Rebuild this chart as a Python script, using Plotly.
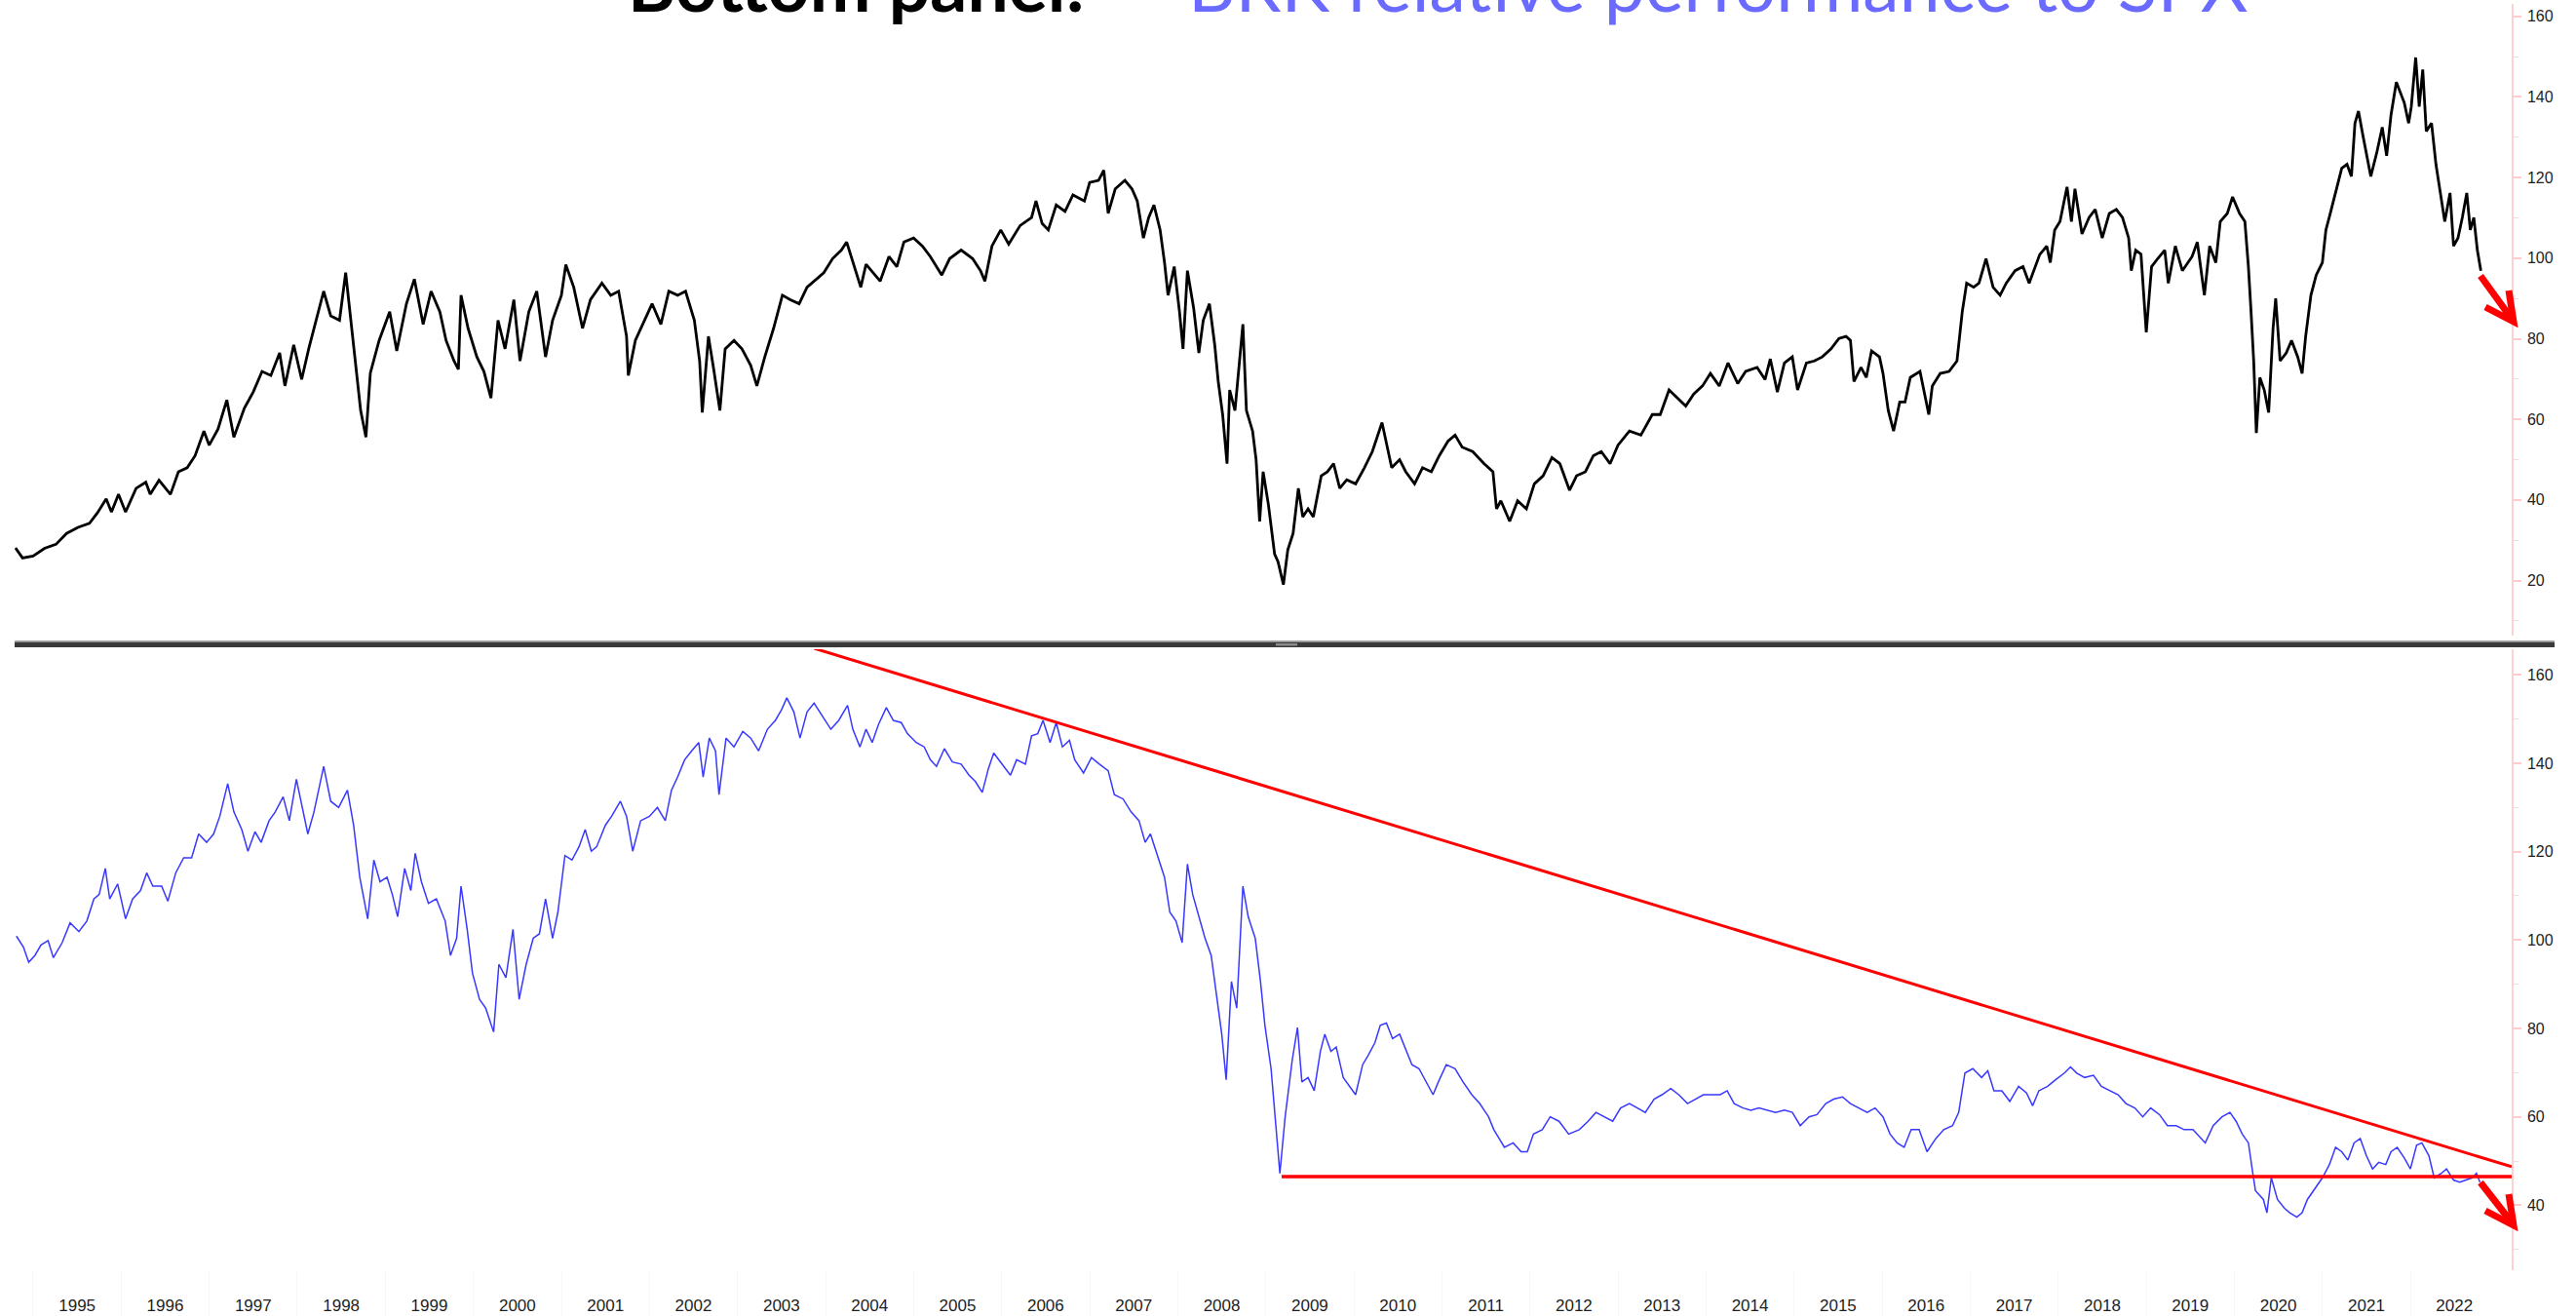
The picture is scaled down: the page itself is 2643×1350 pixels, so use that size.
import plotly.graph_objects as go

# ---------------- data ----------------
top_t = [1994.80,1994.88,1995.00,1995.13,1995.26,1995.38,1995.51,1995.64,1995.73,1995.83,1995.89,1995.97,
 1996.05,1996.17,1996.28,1996.33,1996.43,1996.56,1996.65,1996.75,1996.84,1996.94,1997.00,1997.10,1997.20,
 1997.28,1997.40,1997.50,1997.60,1997.70,1997.80,1997.86,1997.96,1998.05,1998.13,1998.23,1998.30,1998.38,
 1998.48,1998.55,1998.60,1998.67,1998.72,1998.78,1998.83,1998.93,1999.05,1999.13,1999.24,1999.33,1999.43,
 1999.52,1999.62,1999.69,1999.78,1999.83,1999.86,1999.94,2000.04,2000.12,2000.20,2000.28,2000.36,2000.46,
 2000.53,2000.63,2000.72,2000.82,2000.90,2001.00,2001.05,2001.14,2001.24,2001.33,2001.46,2001.56,2001.65,
 2001.74,2001.76,2001.84,2001.94,2002.03,2002.13,2002.22,2002.32,2002.41,2002.51,2002.57,2002.60,2002.67,
 2002.73,2002.80,2002.86,2002.96,2003.05,2003.15,2003.22,2003.31,2003.41,2003.51,2003.60,2003.70,2003.79,
 2003.89,2003.98,2004.08,2004.18,2004.24,2004.30,2004.40,2004.46,2004.56,2004.62,2004.72,2004.81,2004.89,
 2005.00,2005.10,2005.19,2005.32,2005.41,2005.54,2005.67,2005.76,2005.81,2005.89,2005.99,2006.08,2006.21,
 2006.34,2006.39,2006.46,2006.53,2006.62,2006.72,2006.81,2006.94,2007.00,2007.10,2007.16,2007.21,2007.29,
 2007.40,2007.48,2007.54,2007.61,2007.67,2007.73,2007.80,2007.85,2007.89,2007.96,2008.02,2008.06,2008.11,
 2008.18,2008.24,2008.29,2008.36,2008.42,2008.46,2008.51,2008.56,2008.59,2008.65,2008.74,2008.78,2008.85,
 2008.89,2008.93,2008.97,2009.03,2009.10,2009.14,2009.20,2009.25,2009.31,2009.37,2009.42,2009.48,2009.54,
 2009.63,2009.70,2009.77,2009.84,2009.92,2010.02,2010.12,2010.21,2010.32,2010.37,2010.43,2010.52,2010.59,
 2010.69,2010.78,2010.88,2010.97,2011.07,2011.15,2011.23,2011.35,2011.48,2011.58,2011.62,2011.67,2011.77,
 2011.86,2011.96,2012.05,2012.15,2012.25,2012.34,2012.45,2012.53,2012.63,2012.72,2012.81,2012.91,2013.00,
 2013.13,2013.26,2013.39,2013.48,2013.58,2013.67,2013.77,2013.86,2013.96,2014.05,2014.15,2014.25,2014.36,
 2014.45,2014.58,2014.67,2014.73,2014.81,2014.89,2014.98,2015.04,2015.14,2015.23,2015.32,2015.42,2015.51,
 2015.59,2015.64,2015.68,2015.76,2015.82,2015.88,2015.97,2016.01,2016.07,2016.13,2016.20,2016.26,2016.32,
 2016.43,2016.48,2016.53,2016.57,2016.66,2016.76,2016.85,2016.91,2016.96,2017.04,2017.10,2017.18,2017.26,
 2017.34,2017.41,2017.51,2017.60,2017.67,2017.72,2017.79,2017.87,2017.91,2017.96,2018.02,2018.10,2018.15,
 2018.19,2018.27,2018.35,2018.42,2018.50,2018.58,2018.66,2018.73,2018.80,2018.83,2018.88,2018.94,2019.00,
 2019.06,2019.13,2019.21,2019.25,2019.33,2019.41,2019.47,2019.52,2019.58,2019.63,2019.66,2019.72,2019.79,
 2019.84,2019.92,2019.98,2020.06,2020.12,2020.16,2020.19,2020.22,2020.25,2020.29,2020.34,2020.39,2020.44,
 2020.47,2020.52,2020.59,2020.65,2020.72,2020.77,2020.81,2020.87,2020.93,2021.00,2021.04,2021.09,2021.15,
 2021.22,2021.28,2021.33,2021.37,2021.41,2021.46,2021.51,2021.55,2021.62,2021.68,2021.73,2021.78,2021.84,
 2021.89,2021.93,2021.98,2022.01,2022.06,2022.10,2022.14,2022.18,2022.24,2022.29,2022.34,2022.39,2022.45,
 2022.49,2022.54,2022.59,2022.64,2022.68,2022.72,2022.76,2022.80]
top_v = [28.1,25.6,26.1,28.0,29.0,31.7,33.2,34.2,36.8,40.3,37.0,41.4,
 37.0,42.9,44.4,41.4,44.9,41.4,47.0,48.0,51.0,57.1,53.6,57.6,64.8,
 55.6,62.8,66.8,71.9,70.9,76.5,68.3,78.5,69.9,77.5,85.7,91.8,85.7,
 84.6,96.4,86.7,72.4,62.2,55.6,71.5,79.6,86.7,77.0,88.7,94.8,83.6,
 91.8,86.7,79.6,74.5,72.4,90.8,82.6,75.5,71.9,65.3,84.6,77.5,89.7,
 74.5,86.7,91.8,75.5,84.6,90.8,98.4,92.8,82.6,89.7,93.8,90.8,91.8,
 80.6,70.9,79.6,84.6,88.7,83.6,91.8,90.8,91.8,84.6,74.5,61.7,80.6,
 72.4,62.2,77.5,79.6,77.5,73.4,68.3,75.5,82.6,90.8,89.7,88.7,92.8,
 94.8,96.4,99.9,102.0,104.0,99.9,92.8,98.5,95.8,94.3,100.4,97.9,104.0,
 105.0,103.0,100.4,95.8,99.9,102.0,99.9,96.9,94.3,103.0,107.0,103.5,108.1,
 110.1,114.2,108.6,107.0,113.2,111.6,115.7,114.2,118.8,119.3,121.8,111.1,117.2,
 119.3,117.2,114.2,105.0,110.1,113.2,107.0,98.9,90.8,97.9,86.7,77.5,96.9,
 87.7,76.5,84.6,88.7,78.5,69.4,61.2,49.0,67.3,62.2,83.6,62.2,57.1,
 50.0,34.7,47.0,38.8,26.6,24.6,19.0,27.6,31.7,42.9,35.8,37.8,35.8,
 46.0,47.0,49.0,42.9,45.0,44.0,48.0,52.0,59.2,54.1,48.0,50.0,47.0,
 44.0,48.0,47.0,51.0,54.6,56.1,53.1,52.0,49.0,47.0,37.8,39.8,34.7,
 39.8,37.8,44.0,46.0,50.5,49.0,42.4,46.0,47.0,51.0,52.0,49.0,53.6,
 57.1,56.1,61.2,61.2,67.3,65.3,63.3,66.3,68.3,71.4,68.3,74.0,68.9,
 71.9,72.9,69.9,75.0,66.8,74.0,75.5,67.3,74.0,74.5,75.5,77.5,80.1,
 80.6,79.6,69.4,72.9,70.4,77.0,75.5,71.4,62.2,57.1,64.3,64.3,70.4,
 71.9,66.3,61.2,68.3,71.4,71.9,74.5,86.7,93.8,92.8,93.8,99.9,92.8,
 90.8,93.8,96.9,97.9,93.8,96.9,100.9,103.0,98.9,107.0,109.1,117.7,109.1,
 117.2,106.0,110.1,112.1,105.0,111.1,112.1,110.1,105.0,96.9,102.0,101.0,81.6,
 97.9,99.9,102.0,93.8,103.0,96.9,98.9,100.4,104.0,94.8,90.8,103.0,98.9,
 109.1,111.1,115.2,111.1,109.1,97.9,86.7,74.5,56.6,70.4,67.3,61.7,82.6,
 90.0,74.5,76.5,79.6,75.5,71.4,80.6,90.8,95.8,98.9,107.0,111.1,116.2,
 122.3,123.3,120.3,133.5,136.5,130.5,124.4,120.3,126.4,132.5,125.4,135.6,143.7,
 140.7,138.6,133.5,137.6,149.8,137.6,146.8,131.5,133.5,123.3,116.2,109.1,116.2,
 103.0,105.0,110.1,116.2,107.0,110.1,102.0,96.9]

rel_t = [1994.81,1994.89,1994.95,1995.02,1995.09,1995.17,1995.23,1995.33,1995.42,1995.52,1995.61,1995.69,
 1995.75,1995.82,1995.87,1995.96,1996.05,1996.13,1996.22,1996.29,1996.36,1996.46,1996.53,1996.62,1996.71,
 1996.80,1996.88,1996.97,1997.05,1997.12,1997.21,1997.28,1997.37,1997.44,1997.52,1997.59,1997.68,1997.75,
 1997.84,1997.91,1997.99,1998.06,1998.12,1998.19,1998.30,1998.38,1998.47,1998.57,1998.64,1998.71,1998.76,
 1998.80,1998.87,1998.94,1999.02,1999.08,1999.14,1999.22,1999.29,1999.34,1999.41,1999.49,1999.58,1999.68,
 1999.74,1999.81,1999.86,1999.93,1999.99,2000.07,2000.14,2000.23,2000.29,2000.37,2000.45,2000.52,2000.60,
 2000.68,2000.75,2000.82,2000.90,2000.96,2001.04,2001.12,2001.20,2001.27,2001.34,2001.40,2001.50,2001.57,
 2001.67,2001.74,2001.81,2001.90,2002.00,2002.09,2002.18,2002.25,2002.32,2002.40,2002.48,2002.56,2002.61,
 2002.68,2002.75,2002.79,2002.87,2002.96,2003.06,2003.15,2003.24,2003.34,2003.43,2003.50,2003.56,2003.64,
 2003.71,2003.79,2003.87,2003.97,2004.06,2004.15,2004.25,2004.31,2004.39,2004.46,2004.53,2004.60,2004.69,
 2004.77,2004.86,2004.93,2005.03,2005.12,2005.19,2005.26,2005.35,2005.44,2005.54,2005.63,2005.70,2005.78,
 2005.85,2005.91,2006.00,2006.10,2006.17,2006.27,2006.34,2006.41,2006.47,2006.55,2006.62,2006.69,2006.77,
 2006.83,2006.93,2007.02,2007.11,2007.21,2007.28,2007.38,2007.47,2007.56,2007.63,2007.69,2007.77,2007.85,
 2007.91,2007.98,2008.05,2008.11,2008.17,2008.24,2008.31,2008.38,2008.45,2008.50,2008.55,2008.61,2008.67,
 2008.74,2008.80,2008.88,2008.94,2008.99,2009.06,2009.10,2009.16,2009.22,2009.30,2009.36,2009.41,2009.48,
 2009.55,2009.62,2009.67,2009.74,2009.80,2009.88,2009.95,2010.02,2010.10,2010.16,2010.24,2010.30,2010.37,
 2010.44,2010.52,2010.58,2010.66,2010.74,2010.82,2010.90,2010.96,2011.05,2011.15,2011.24,2011.34,2011.43,
 2011.53,2011.59,2011.65,2011.71,2011.81,2011.90,2011.97,2012.04,2012.14,2012.23,2012.33,2012.44,2012.56,
 2012.66,2012.75,2012.84,2012.94,2013.03,2013.13,2013.22,2013.31,2013.41,2013.50,2013.60,2013.69,2013.79,
 2013.88,2013.97,2014.07,2014.16,2014.24,2014.32,2014.42,2014.51,2014.60,2014.70,2014.79,2014.89,2014.98,
 2015.07,2015.17,2015.26,2015.36,2015.45,2015.55,2015.64,2015.73,2015.83,2015.92,2016.01,2016.09,2016.17,
 2016.25,2016.33,2016.42,2016.51,2016.61,2016.70,2016.80,2016.87,2016.94,2017.03,2017.13,2017.20,2017.27,
 2017.36,2017.45,2017.55,2017.64,2017.71,2017.78,2017.88,2017.97,2018.07,2018.14,2018.21,2018.30,2018.40,
 2018.49,2018.59,2018.68,2018.77,2018.87,2018.96,2019.05,2019.15,2019.24,2019.34,2019.43,2019.53,2019.62,
 2019.67,2019.76,2019.86,2019.95,2020.02,2020.09,2020.16,2020.21,2020.24,2020.33,2020.37,2020.42,2020.49,
 2020.57,2020.63,2020.71,2020.77,2020.83,2020.94,2021.00,2021.08,2021.15,2021.22,2021.29,2021.36,2021.43,
 2021.50,2021.57,2021.64,2021.72,2021.78,2021.85,2021.93,2022.00,2022.07,2022.13,2022.21,2022.27,2022.35,
 2022.41,2022.49,2022.56,2022.63,2022.70,2022.75,2022.79]
rel_v = [100.9,98.4,95.0,96.5,98.9,99.9,96.0,99.4,103.9,101.9,104.3,109.3,
 110.3,116.2,109.3,112.7,104.8,109.3,111.2,115.2,112.2,112.2,108.8,115.2,118.6,
 118.6,124.0,122.1,124.0,128.0,135.4,129.0,125.0,120.1,124.5,122.1,127.0,129.0,
 132.4,127.0,136.4,130.0,124.0,129.0,139.3,131.4,130.0,133.9,126.0,114.2,109.3,
 104.8,118.1,113.2,114.2,110.3,105.3,116.2,111.2,119.6,113.2,108.3,109.3,104.3,
 96.5,100.4,112.2,102.4,92.5,86.6,84.6,79.2,94.5,91.5,102.4,86.6,94.5,
 100.4,101.4,109.3,100.4,106.3,119.1,118.1,121.1,125.0,120.1,121.1,126.0,128.0,
 131.4,128.0,120.1,127.0,128.0,130.0,127.0,133.9,136.9,140.8,142.8,144.7,136.9,
 145.7,142.8,132.9,145.7,143.7,147.2,145.7,142.8,147.7,149.7,152.1,154.8,151.6,
 145.7,151.6,153.6,150.6,147.7,149.7,153.1,147.7,143.7,147.7,144.7,148.7,152.6,
 149.7,149.2,146.7,144.7,143.7,140.8,139.3,143.3,140.3,139.8,137.3,135.9,133.4,
 138.8,142.3,139.8,137.3,140.8,139.8,146.2,146.7,149.7,144.7,149.2,143.7,145.2,
 140.8,137.8,141.3,139.8,138.3,132.9,131.9,129.0,127.0,122.1,124.0,119.1,114.2,
 106.3,104.3,99.4,117.2,110.3,105.3,100.4,96.5,86.6,78.7,68.4,90.6,84.6,
 112.2,105.3,100.4,90.6,80.7,70.9,61.0,47.2,60.0,72.8,80.2,67.9,68.9,
 65.9,74.8,78.7,74.8,75.8,68.9,66.9,65.0,71.8,73.8,76.8,80.7,81.2,
 77.7,78.7,75.8,71.8,70.9,67.9,65.0,67.9,71.8,70.9,67.9,65.0,63.0,
 60.0,57.1,55.1,53.1,54.1,52.1,52.1,56.1,57.1,60.0,59.0,56.1,57.1,
 59.0,61.0,60.0,59.0,62.0,63.0,62.0,61.0,64.0,65.0,66.4,65.0,63.0,
 64.0,65.0,65.0,65.0,65.9,63.0,62.0,61.5,62.0,61.5,61.0,61.5,61.0,
 58.0,60.0,60.5,63.0,64.0,64.5,63.0,62.0,61.0,62.0,60.0,56.1,54.1,
 53.1,57.1,57.1,52.1,55.1,57.1,58.0,61.0,69.9,70.9,68.9,70.4,65.9,
 65.9,63.5,66.9,65.4,62.5,65.9,66.9,68.4,69.9,71.3,69.9,68.9,69.4,
 66.9,65.9,65.0,63.0,62.0,60.0,62.0,60.5,58.0,58.0,57.1,57.1,55.1,
 54.1,58.0,60.0,61.0,59.0,56.1,54.1,47.2,43.3,41.3,38.3,46.2,41.3,
 39.3,38.3,37.3,38.3,41.3,44.3,46.2,49.2,53.1,52.1,50.2,54.1,55.1,
 51.2,48.2,49.7,49.2,52.1,53.1,50.7,48.2,53.6,54.1,51.2,46.2,47.2,
 48.2,45.7,45.2,45.7,46.2,47.2,45.2]

years = list(range(1995, 2023))
top_ticks = [20, 40, 60, 80, 100, 120, 140, 160]
top_minor = [10, 30, 50, 70, 90, 110, 130, 150]
bot_ticks = [40, 60, 80, 100, 120, 140, 160]
bot_minor = [30, 50, 70, 90, 110, 130, 150]

# red guide lines drawn on the bottom panel
trend_t = [2003.87, 2023.15]
trend_v = [166.0, 48.7]
support_t = [2009.18, 2023.15]
support_v = [46.5, 46.5]

x_range = [1994.79, 2023.15]

# ---------------- figure ----------------
W, H = 2643, 1350
ML, MR, MT, MB = 15, 66, 0, 47
PW, PH = W - ML - MR, H - MT - MB

def px_x(p):  # pixel -> paper
    return (p - ML) / PW

def px_y(p):
    return (H - MB - p) / PH

PINK = '#ffd2d2'
TICKFONT = dict(family='Liberation Sans, Arial, sans-serif', size=16, color='#1e1e1e')

fig = go.Figure()
fig.add_trace(go.Scatter(x=top_t, y=top_v, xaxis='x2', yaxis='y2', mode='lines',
                         line=dict(color='#000000', width=2.8), hoverinfo='skip'))
fig.add_trace(go.Scatter(x=rel_t, y=rel_v, mode='lines',
                         line=dict(color='#3838ff', width=1.5), hoverinfo='skip'))
fig.add_trace(go.Scatter(x=trend_t, y=trend_v, mode='lines',
                         line=dict(color='#ff0000', width=3), hoverinfo='skip'))
fig.add_trace(go.Scatter(x=support_t, y=support_v, mode='lines',
                         line=dict(color='#ff0000', width=3.5), hoverinfo='skip'))

yaxis_common = dict(side='right', showgrid=False, zeroline=False, showline=True,
                    linecolor=PINK, linewidth=1.5, ticks='outside', ticklen=8,
                    tickwidth=2, tickcolor='#ffcccc', tickfont=TICKFONT,
                    ticklabelstandoff=3)

fig.update_layout(
    width=W, height=H, paper_bgcolor='white', plot_bgcolor='white',
    margin=dict(l=ML, r=MR, t=MT, b=MB), showlegend=False,
    xaxis=dict(domain=[0, 1], anchor='y', range=x_range, showgrid=False, zeroline=False,
               showline=False, tickvals=[y + 0.5 for y in years], ticktext=[str(y) for y in years],
               ticks='', tickfont=dict(family='Liberation Sans, Arial, sans-serif', size=17, color='#1e1e1e'),
               ticklabelstandoff=24,
               minor=dict(tickvals=years, ticks='outside', ticklen=47, tickcolor='#f7f7f7', tickwidth=1)),
    xaxis2=dict(domain=[0, 1], anchor='y2', matches='x', range=x_range, showgrid=False,
                zeroline=False, showline=False, showticklabels=False, ticks=''),
    yaxis=dict(domain=[0, px_y(666)], anchor='x', range=[25.3, 165.8], tickvals=bot_ticks,
               minor=dict(tickvals=bot_minor, ticks='outside', ticklen=5, tickcolor='#ffd6d6', tickwidth=1),
               **yaxis_common),
    yaxis2=dict(domain=[px_y(652), px_y(4)], anchor='x2', range=[6.35, 163.1], tickvals=top_ticks,
                minor=dict(tickvals=top_minor, ticks='outside', ticklen=5, tickcolor='#ffd6d6', tickwidth=1),
                **yaxis_common),
)

# panel separator bar
fig.add_shape(type='rect', xref='paper', yref='paper', x0=0, x1=px_x(2621),
              y0=px_y(664), y1=px_y(658.6), fillcolor='#3a3a3a', line_width=0, layer='above')
fig.add_shape(type='rect', xref='paper', yref='paper', x0=0, x1=px_x(2621),
              y0=px_y(658.6), y1=px_y(657.2), fillcolor='#8a8a8a', line_width=0, layer='above')
fig.add_shape(type='rect', xref='paper', yref='paper', x0=px_x(1309), x1=px_x(1331),
              y0=px_y(662.5), y1=px_y(660), fillcolor='#8c8c8c', line_width=0, layer='above')

# title (cut off by the top edge)
fig.add_annotation(text='<b>Bottom panel:</b>', xref='paper', yref='paper',
                   x=px_x(642), y=px_y(30), xanchor='left', yanchor='bottom', showarrow=False,
                   font=dict(family='Lato, Open Sans, sans-serif', size=75, color='#000000'))
fig.add_annotation(text='BRK relative performance to SPX', xref='paper', yref='paper',
                   x=px_x(1217), y=px_y(30), xanchor='left', yanchor='bottom', showarrow=False,
                   font=dict(family='Lato, Open Sans, sans-serif', size=75, color='#6a6aff'))

# red arrows (shaft + chevron head), pixel geometry of the reference
for tail, tip in [((2545, 283), (2579, 330)), ((2545, 1213), (2579, 1257))]:
    fig.add_shape(type='line', xref='paper', yref='paper',
                  x0=px_x(tail[0]), y0=px_y(tail[1]), x1=px_x(tip[0] - 2), y1=px_y(tip[1] - 3),
                  line=dict(color='#ff0000', width=7), layer='above')
    a1 = (tip[0] - 5, tip[1] - 32)
    a2 = (tip[0] - 29, tip[1] - 15)
    path = 'M {:.5f} {:.5f} L {:.5f} {:.5f} L {:.5f} {:.5f}'.format(
        px_x(a1[0]), px_y(a1[1]), px_x(tip[0]), px_y(tip[1]), px_x(a2[0]), px_y(a2[1]))
    fig.add_shape(type='path', xref='paper', yref='paper', path=path,
                  line=dict(color='#ff0000', width=7), layer='above')

fig.write_html('out.html', config={'displayModeBar': False},
               post_script="document.body.style.margin='0px';document.body.style.overflow='hidden';")
